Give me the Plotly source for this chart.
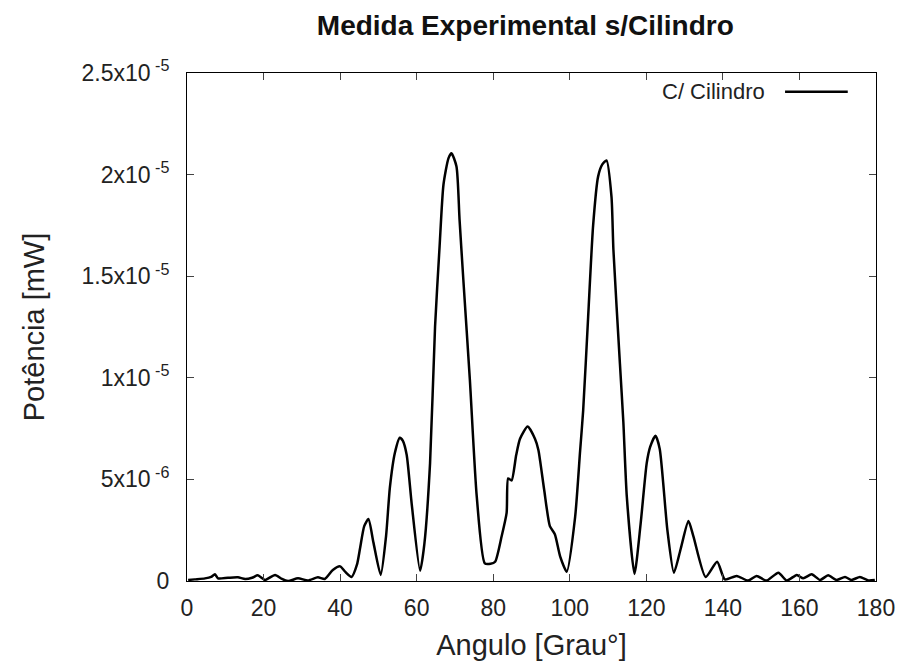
import plotly.graph_objects as go

# Angle (degrees) and measured power (in units of 1e-6 mW)
angulo = [0.3, 2, 4.7, 6.3, 7.3, 8.1, 10.7, 13.3, 15.2, 17, 18.5, 20.4, 23, 24.8, 26.4,
          29, 31.6, 34.2, 36, 38.1, 40, 41.3, 43, 44.4, 45.2, 46.3, 47.4, 48.7, 50.6,
          52, 53, 54.3, 55.6, 56.4, 57.4, 58.7, 60.9, 62, 63.5, 64.8, 66, 67, 68.3,
          69.1, 70.4, 71.2, 72.2, 73.9, 75.7, 77.8, 79.3, 80.5, 82.2, 83.5, 83.9, 84.8,
          86, 87, 89, 90.9, 91.8, 93.3, 94.8, 96.1, 97.5, 99.2, 101.4, 102.7, 103.5,
          104.8, 106.1, 107.4, 108.5, 109.6, 110.9, 111.4, 113.1, 114.0, 114.9, 116.9, 118.5,
          120.1, 121, 122.4, 123.5, 125.5, 127.2, 129, 131, 132.3, 135.5, 138.5, 140.5,
          143.6, 146.6, 148.8, 151.4, 154.5, 156.7, 159.3, 161, 163.2, 165.4, 167.5,
          169.7, 171.9, 173.6, 175.8, 178, 179.7]
potencia_u = [0.05, 0.08, 0.13, 0.2, 0.33, 0.13, 0.16, 0.18, 0.1, 0.16, 0.28, 0.05, 0.3, 0.1, 0.0,
              0.13, 0.03, 0.18, 0.1, 0.54, 0.72, 0.46, 0.2, 0.8, 1.6, 2.7, 3.05, 1.9, 0.3,
              2.2, 4.6, 6.3, 7.05, 6.9, 6.2, 3.8, 0.5, 1.8, 5.8, 12.5, 16.5, 19.5, 20.8,
              21.05, 20.4, 17.8, 14.8, 9.9, 4.15, 0.87, 0.85, 0.95, 2.2, 3.35, 5.05, 4.95,
              6.2, 7.0, 7.6, 7.0, 6.45, 4.5, 2.7, 2.3, 1.2, 0.46, 3.16, 6.4, 8.4,
              13.0, 17.5, 19.9, 20.5, 20.7, 18.9, 16.3, 10.7, 7.8, 4.15, 0.35, 2.8,
              5.8, 6.6, 7.15, 6.5, 2.5, 0.4, 1.6, 2.95, 2.2, 0.2, 0.95, 0.08,
              0.25, 0.02, 0.25, 0.02, 0.41, 0.02, 0.3, 0.13, 0.33, 0.05, 0.28,
              0.05, 0.2, 0.05, 0.2, 0.03, 0.05]
potencia = [v * 1e-6 for v in potencia_u]

x_ticks = [0, 20, 40, 60, 80, 100, 120, 140, 160, 180]
y_ticks = [0, 5e-6, 1e-5, 1.5e-5, 2e-5, 2.5e-5]
y_ticktext = ["0", "5x10<sup> -6</sup>", "1x10<sup> -5</sup>", "1.5x10<sup> -5</sup>",
              "2x10<sup> -5</sup>", "2.5x10<sup> -5</sup>"]

FONT = "Liberation Sans, Arial, sans-serif"

fig = go.Figure()
fig.add_trace(go.Scatter(x=angulo, y=potencia, mode="lines",
                         line=dict(color="black", width=2.5, shape="spline", smoothing=0.6),
                         name="C/ Cilindro", showlegend=False))

# legend imitation (gnuplot style: text then line sample)
fig.add_annotation(x=0.842, y=0.963, xref="paper", yref="paper", text="C/ Cilindro",
                   showarrow=False, xanchor="right", yanchor="middle",
                   font=dict(family=FONT, size=22, color="#222"))
fig.add_shape(type="line", xref="paper", yref="paper", x0=0.868, x1=0.959,
              y0=0.963, y1=0.963, line=dict(color="black", width=2.5))

fig.update_layout(
    width=898, height=661,
    margin=dict(l=187, r=22, t=73, b=80, autoexpand=False),
    paper_bgcolor="white", plot_bgcolor="white",
    font=dict(family=FONT, color="#222"),
    title=dict(text="<b>Medida Experimental s/Cilindro</b>", x=0.585, xref="container",
               xanchor="center", y=0.962, yref="container", yanchor="middle",
               font=dict(family=FONT, size=28, color="#111")),
    showlegend=False,
)
fig.update_xaxes(range=[0, 180], tickvals=x_ticks, ticks="inside", ticklen=7,
                 showline=True, linecolor="black", linewidth=1, mirror="allticks",
                 showgrid=False, zeroline=False, ticklabelstandoff=6,
                 tickfont=dict(family=FONT, size=23, color="#222"),
                 title=dict(text="Angulo [Grau°]", font=dict(family=FONT, size=29, color="#222"),
                            standoff=16))
fig.update_yaxes(range=[0, 2.5e-5], tickvals=y_ticks, ticktext=y_ticktext,
                 ticks="inside", ticklen=7,
                 showline=True, linecolor="black", linewidth=1, mirror="allticks",
                 showgrid=False, zeroline=False, ticklabelstandoff=12,
                 tickfont=dict(family=FONT, size=23, color="#222"),
                 title=dict(text="Potência [mW]", font=dict(family=FONT, size=29, color="#222"),
                            standoff=28))

fig.write_html("out.html")
